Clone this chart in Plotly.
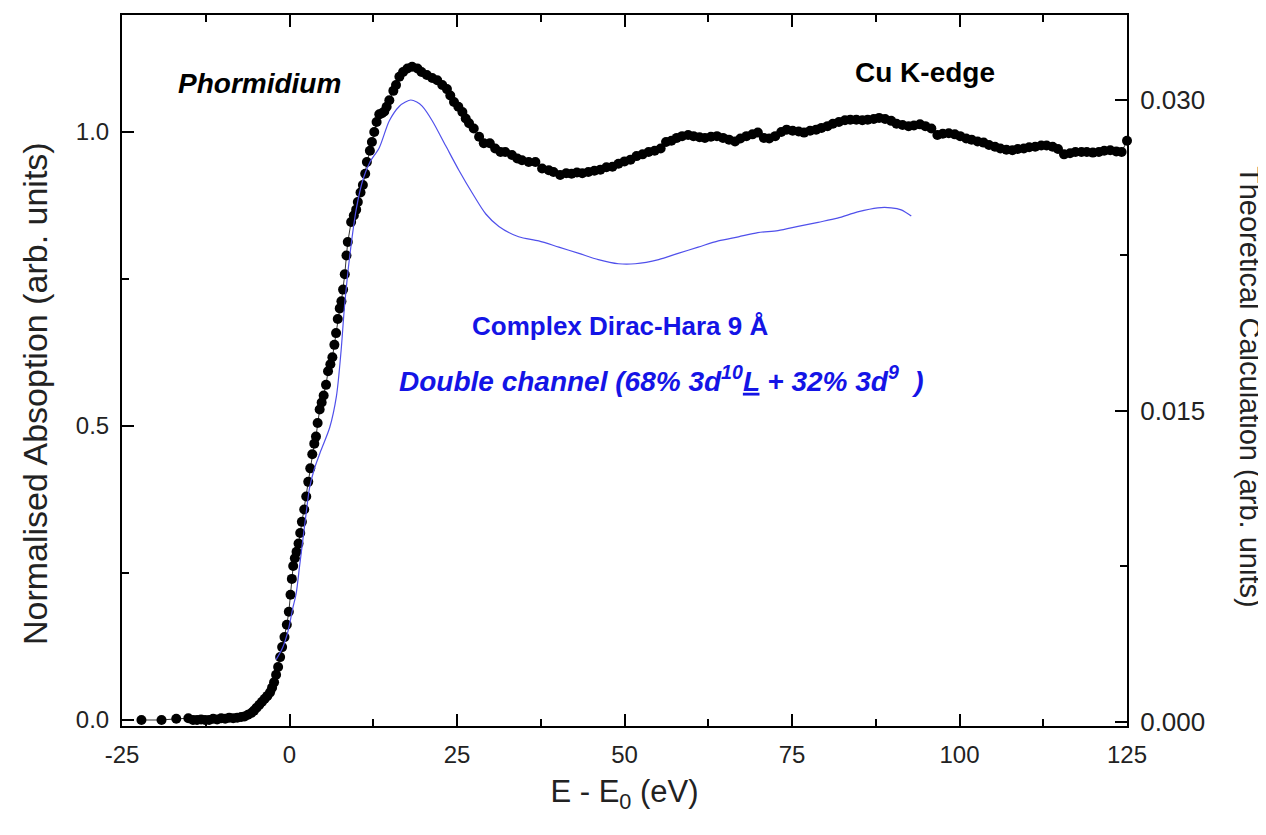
import plotly.graph_objects as go

exp_x = [-22.1, -19.1, -16.9, -15.1, -14.4, -13.8, -13.2, -12.6, -12.0, -11.4, -10.8, -10.2, -9.6, -9.0,
         -8.4, -7.8, -7.2, -6.7, -6.2, -5.7, -5.3, -4.9, -4.5, -4.1, -3.7, -3.3, -2.9, -2.6, -2.3, -2.0,
         -1.7, -1.4, -1.1, -0.75, -0.4, -0.1, 0.15, 0.35, 0.55, 0.8, 1.05, 1.35, 1.6, 1.85, 2.2, 2.5,
         2.8, 3.1, 3.4, 3.7, 3.95, 4.2, 4.5, 4.8, 5.1, 5.45, 5.75, 6.1, 6.4, 6.7, 6.95, 7.2, 7.5, 7.75,
         8.0, 8.25, 8.5, 8.7, 9.2, 9.6, 9.95, 10.2, 10.6, 10.95, 11.3, 11.55, 12.0, 12.3, 12.65, 13.0,
         13.4, 13.8, 14.15, 14.5, 14.9, 15.5, 15.9, 16.4, 16.95, 17.6, 18.3, 19.1, 19.7, 20.5, 21.3,
         22.05, 22.8, 23.5, 24.0, 24.55, 25.2, 25.8, 26.3, 26.8, 27.5, 28.3, 29.0, 29.9, 30.7, 31.5,
         32.2, 33.2, 34.0, 34.7, 35.7, 36.7, 37.7, 38.7, 39.4, 40.4, 41.3, 42.1, 42.9, 43.7, 44.6,
         45.5, 46.4, 47.3, 48.2, 49.1, 50.0, 50.9, 51.8, 52.7, 53.6, 54.5, 55.4, 56.2, 57.0, 57.8,
         58.6, 59.5, 60.3, 61.2, 62.0, 62.9, 63.8, 64.7, 65.6, 66.5, 67.3, 68.2, 69.1, 69.9, 70.8,
         71.6, 72.5, 73.4, 74.2, 75.1, 76.0, 76.8, 77.7, 78.6, 79.4, 80.3, 81.1, 82.0, 82.9, 83.7,
         84.6, 85.5, 86.3, 87.2, 88.0, 88.9, 89.8, 90.6, 91.5, 92.4, 93.2, 94.1, 94.9, 95.8, 96.7,
         97.5, 98.4, 99.3, 100.1, 101.0, 101.8, 102.7, 103.6, 104.4, 105.3, 106.1, 107.0, 107.9,
         108.7, 109.6, 110.4, 111.3, 112.2, 113.0, 113.9, 114.7, 115.6, 116.5, 117.3, 118.2, 119.0,
         119.9, 120.8, 121.6, 122.5, 123.4, 124.2, 125.0]
exp_y = [0.000, 0.000, 0.002, 0.003, 0.000, 0.000, 0.001, 0.000, 0.000, 0.002, 0.001, 0.003, 0.002, 0.004,
         0.003, 0.004, 0.005, 0.006, 0.009, 0.012, 0.016, 0.021, 0.026, 0.031, 0.036, 0.041, 0.047, 0.055, 0.064, 0.077,
         0.090, 0.107, 0.124, 0.141, 0.162, 0.184, 0.213, 0.240, 0.262, 0.275, 0.286, 0.300, 0.318, 0.337, 0.358, 0.380,
         0.405, 0.428, 0.452, 0.470, 0.482, 0.505, 0.528, 0.540, 0.552, 0.570, 0.593, 0.605, 0.617, 0.638, 0.658, 0.682, 0.700, 0.712,
         0.732, 0.758, 0.790, 0.813, 0.847, 0.858, 0.868, 0.881, 0.897, 0.910, 0.929, 0.949, 0.968, 0.983, 1.000, 1.017,
         1.030, 1.032, 1.035, 1.043, 1.054, 1.070, 1.080, 1.094, 1.102, 1.108, 1.111, 1.108, 1.102, 1.097, 1.092,
         1.088, 1.080, 1.073, 1.062, 1.051, 1.043, 1.034, 1.023, 1.015, 1.006, 0.992, 0.981, 0.981, 0.972, 0.966,
         0.966, 0.961, 0.955, 0.952, 0.949, 0.949, 0.938, 0.935, 0.932, 0.927, 0.930, 0.929, 0.931, 0.930, 0.932,
         0.934, 0.936, 0.940, 0.941, 0.946, 0.950, 0.953, 0.959, 0.962, 0.966, 0.968, 0.972, 0.983, 0.985, 0.990,
         0.993, 0.995, 0.993, 0.991, 0.990, 0.992, 0.993, 0.990, 0.987, 0.984, 0.989, 0.993, 0.996, 0.999, 0.990,
         0.989, 0.993, 1.000, 1.004, 1.002, 1.001, 0.999, 1.002, 1.004, 1.007, 1.010, 1.014, 1.017, 1.020, 1.021,
         1.021, 1.020, 1.021, 1.022, 1.024, 1.022, 1.019, 1.014, 1.012, 1.010, 1.011, 1.013, 1.010, 1.006, 0.995,
         0.997, 0.998, 0.996, 0.993, 0.989, 0.987, 0.984, 0.982, 0.978, 0.975, 0.972, 0.970, 0.969,
         0.971, 0.972, 0.974, 0.975, 0.977, 0.977, 0.975, 0.971, 0.962, 0.964, 0.966, 0.966, 0.966,
         0.965, 0.966, 0.968, 0.969, 0.967, 0.966, 0.985]

# Theoretical calculation (Complex Dirac-Hara, 9 A, double channel), right axis
theo_x = [-2.0, -1.0, -0.2, 0.5, 1.0, 1.5, 2.0, 2.5, 3.0, 3.7, 4.7, 6.0, 7.0, 7.7, 8.2, 9.0, 10.0, 11.0,
          12.0, 13.4, 14.9, 16.4, 17.3, 18.1, 19.0, 19.8, 21.3, 23.3, 25.3, 27.3, 29.3, 31.25, 34.2, 37.2,
          40.2, 43.2, 46.1, 49.1, 51.6, 55.1, 58.0, 61.0, 64.0, 67.0, 69.9, 72.9, 75.9, 78.9, 81.8, 84.8,
          87.8, 89.8, 91.3, 92.8]
theo_y = [0.0030, 0.0036, 0.0044, 0.0055, 0.0062, 0.0075, 0.0088, 0.0101, 0.0113, 0.0122, 0.0131, 0.0142,
          0.0157, 0.0179, 0.0200, 0.0225, 0.0248, 0.0262, 0.0270, 0.0277, 0.0290, 0.0297, 0.0299, 0.0300,
          0.0299, 0.0297, 0.0290, 0.0278, 0.0266, 0.0255, 0.0245, 0.0239, 0.0234, 0.0232, 0.0229, 0.0226,
          0.0223, 0.0221, 0.0221, 0.0223, 0.0226, 0.0229, 0.0232, 0.0234, 0.0236, 0.0237, 0.0239, 0.0241,
          0.0243, 0.0246, 0.0248, 0.0248, 0.0247, 0.0244]

x_ticks = [-25, 0, 25, 50, 75, 100, 125]
x_ticktext = ["-25", "0", "25", "50", "75", "100", "125"]
y_ticks = [0.0, 0.5, 1.0]
y_ticktext = ["0.0", "0.5", "1.0"]
y2_ticks = [0.0, 0.015, 0.030]
y2_ticktext = ["0.000", "0.015", "0.030"]

FONT = "Liberation Sans, Arial, sans-serif"
TXT = "#222222"
BLUE = "rgb(20,20,230)"

# the page body has an 8 px margin; the figure is sized so the plot lands where the reference has it
W, H = 1258, 827
L, R, T, B = 114, 139, 7, 109
plot_w = W - L - R
plot_h = H - T - B


def paper_x(fig_px):
    return (fig_px - L) / plot_w


def paper_y(fig_py):
    return (H - B - fig_py) / plot_h


fig = go.Figure()
# invisible copy of the data on the top axis, so that the top frame with its ticks is drawn
fig.add_trace(go.Scatter(
    x=exp_x, y=exp_y, mode="markers", xaxis="x2", yaxis="y",
    marker=dict(opacity=0), hoverinfo="skip", showlegend=False))
fig.add_trace(go.Scatter(
    x=exp_x, y=exp_y, mode="lines+markers",
    line=dict(color="#333333", width=1),
    marker=dict(color="black", size=10, symbol="circle"),
    cliponaxis=False, showlegend=False, yaxis="y"))
fig.add_trace(go.Scatter(
    x=theo_x, y=theo_y, mode="lines",
    line=dict(color="rgb(80,80,235)", width=1.2, shape="spline", smoothing=0.8),
    showlegend=False, yaxis="y2"))

axis_common = dict(ticks="inside", showline=True, linecolor="black", linewidth=2,
                   tickcolor="black", tickwidth=2, ticklen=12, showgrid=False, zeroline=False,
                   ticklabelstandoff=6)
x_minor = dict(ticks="inside", ticklen=7, tickwidth=2, tickcolor="black", dtick=12.5, tick0=-25)

fig.update_layout(
    width=W, height=H,
    margin=dict(l=L, r=R, t=T, b=B),
    plot_bgcolor="white", paper_bgcolor="white",
    xaxis=dict(range=[-25, 125], tickvals=x_ticks, ticktext=x_ticktext,
               minor=x_minor,
               tickfont=dict(family=FONT, size=24, color=TXT),
               title=dict(text="E - E<sub>0</sub> (eV)", font=dict(family=FONT, size=31, color=TXT), standoff=14),
               **axis_common),
    xaxis2=dict(range=[-25, 125], tickvals=x_ticks, overlaying="x", side="top", anchor="y",
                showticklabels=False, minor=x_minor, **axis_common),
    yaxis=dict(range=[-0.0102, 1.199], tickvals=y_ticks, ticktext=y_ticktext,
               minor=dict(ticks="inside", ticklen=7, tickwidth=2, tickcolor="black", dtick=0.25, tick0=0),
               tickfont=dict(family=FONT, size=24, color=TXT),
               **axis_common),
    yaxis2=dict(range=[-0.0002, 0.0341], tickvals=y2_ticks, ticktext=y2_ticktext,
                overlaying="y", side="right", anchor="x",
                minor=dict(ticks="inside", ticklen=7, tickwidth=2, tickcolor="black", dtick=0.0075, tick0=0),
                tickfont=dict(family=FONT, size=26, color=TXT),
                **axis_common),
    annotations=[
        dict(text="<b><i>Phormidium</i></b>", x=-4.5, y=1.082, xref="x", yref="y", showarrow=False,
             font=dict(family=FONT, size=28, color="black")),
        dict(text="<b>Cu K-edge</b>", x=94.9, y=1.102, xref="x", yref="y", showarrow=False,
             font=dict(family=FONT, size=28, color="black")),
        dict(text="<b>Complex Dirac-Hara 9 Å</b>", x=49.4, y=0.670, xref="x", yref="y", showarrow=False,
             font=dict(family=FONT, size=26, color=BLUE)),
        dict(text="<b><i>Double channel (68% 3d<sup>10</sup><u>L</u> + 32% 3d<sup>9</sup>  )</i></b>",
             x=55.5, y=0.580, xref="x", yref="y", showarrow=False,
             font=dict(family=FONT, size=28, color=BLUE)),
        dict(text="Normalised Absoption (arb. units)",
             x=paper_x(27), y=paper_y(386), xref="paper", yref="paper",
             xanchor="center", yanchor="middle",
             showarrow=False, textangle=-90, font=dict(family=FONT, size=34, color=TXT)),
        dict(text="Theoretical Calculation (arb. units)",
             x=paper_x(1242), y=paper_y(379), xref="paper", yref="paper",
             xanchor="center", yanchor="middle",
             showarrow=False, textangle=90, font=dict(family=FONT, size=29, color=TXT)),
    ],
)

fig.write_html("out.html")
